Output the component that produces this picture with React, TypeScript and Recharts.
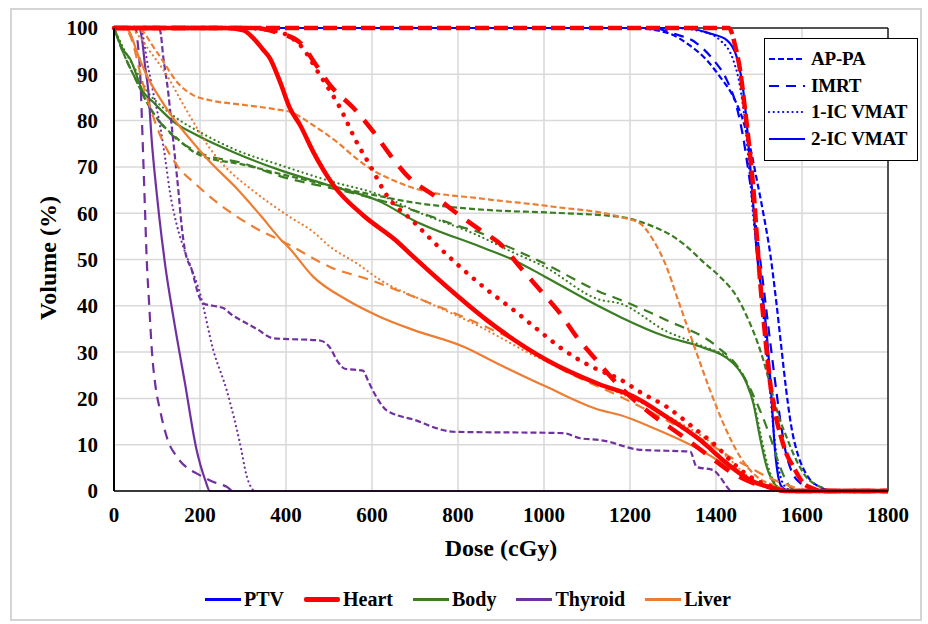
import React from 'react';
import { LineChart, Line, XAxis, YAxis, CartesianGrid, ReferenceLine } from 'recharts';

type P = [number, number][];

// ---------- axis ticks ----------
const doseTicks = [0, 200, 400, 600, 800, 1000, 1200, 1400, 1600, 1800];
const volumeTicks = [0, 10, 20, 30, 40, 50, 60, 70, 80, 90, 100];

const structures = ['PTV', 'Heart', 'Body', 'Thyroid', 'Liver'];
const techniques = ['AP-PA', 'IMRT', '1-IC VMAT', '2-IC VMAT'];

// ---------- PTV ----------
const ptvApPa: P = [[0,100],[1200,100],[1254,99.6],[1300,98.5],[1332,96.7],[1378,93.1],[1409,89.5],[1440,85.2],[1463,80],[1479,74.4],[1495,67.2],[1510,60],[1526,51.3],[1540,41],[1552,31],[1563,22],[1575,14],[1590,8],[1605,4.5],[1620,2.3],[1635,1.2],[1650,0.5],[1665,0],[1800,0]];
const ptvImrt: P = [[0,100],[1250,100],[1301,98.8],[1355,96.7],[1394,93.1],[1425,88.8],[1448,83],[1463,76.5],[1475,69.3],[1487,61.4],[1500,52],[1512,43],[1525,33],[1537,24],[1550,15],[1562,8.5],[1577,4],[1595,1.8],[1615,0.8],[1640,0],[1800,0]];
const ptvVmat1: P = [[0,100],[1300,100],[1370,99.2],[1409,97.4],[1440,93.1],[1456,87.3],[1467,80],[1476,71],[1486,60],[1497,50],[1508,40],[1520,28],[1531,16],[1541,7.5],[1552,2.5],[1565,0.6],[1580,0],[1800,0]];
const ptvVmat2: P = [[0,100],[1330,100],[1386,98.8],[1425,97.4],[1448,93.8],[1460,88.8],[1471,80],[1479,70.8],[1487,61.4],[1495,51.3],[1505,44],[1514,37.6],[1527,23.3],[1537,9],[1545,3],[1553,0.9],[1570,0],[1800,0]];

// ---------- Heart ----------
const heartApPa: P = [[0,100],[1430,100],[1445,96],[1456,90.9],[1468,82],[1479,72.9],[1488,64],[1495,55],[1502,46],[1510,37.6],[1518,30],[1526,23.3],[1537,17],[1549,12.4],[1564,8],[1580,5.2],[1603,1.7],[1626,0.5],[1645,0],[1800,0]];
const heartImrt: P = [[0,100],[330,100],[380,99],[433,96.8],[470,92],[502,87.7],[557,82.7],[603,77.6],[642,72.6],[688,67.5],[743,63.9],[797,60],[851,56.4],[905,52.8],[944,48.4],[991,43.4],[1037,38.4],[1076,33.3],[1115,29],[1177,22.5],[1247,16.8],[1324,11.7],[1386,7.4],[1440,3.8],[1487,1.7],[1533,0.6],[1560,0],[1800,0]];
const heartVmat1: P = [[0,100],[300,100],[360,99.6],[402,98.5],[433,96.3],[479,89.8],[526,82.7],[564,75.4],[595,70.4],[634,63.9],[696,58.2],[743,53.8],[805,48.4],[867,43.5],[929,39.1],[990,34.5],[1045,30.5],[1130,26],[1169,24.5],[1230,21],[1285,18.2],[1350,13.5],[1402,9.6],[1440,6],[1479,3.1],[1533,0.8],[1560,0],[1800,0]];
const heartVmat2: P = [[0,100],[260,100],[301,99.5],[324,97.8],[345,95.5],[363,93.4],[386,88.4],[409,82.7],[433,79],[463,73.3],[510,66.1],[580,59.5],[657,54],[696,50.6],[774,44.1],[867,36.9],[1006,28.3],[1130,23],[1208,20.4],[1285,16],[1363,11],[1425,6],[1479,2.4],[1533,0.6],[1560,0],[1800,0]];

// ---------- Body ----------
const bodyApPa: P = [[0,100],[20,95],[50,89],[84,82.7],[100,80.5],[146,76.2],[200,72.5],[300,70.5],[386,68.5],[500,66],[600,64],[712,62.1],[800,61.2],[867,60.7],[1022,60.1],[1177,59.2],[1254,57.1],[1300,55],[1332,52.8],[1370,49.5],[1409,46.3],[1448,42],[1479,36.2],[1495,32.5],[1510,28.3],[1533,20.4],[1548,15.5],[1564,11.7],[1580,8],[1595,5.2],[1610,3],[1626,1.7],[1650,0.6],[1670,0],[1800,0]];
const bodyImrt: P = [[0,100],[20,95],[50,89],[84,82.7],[100,80.5],[146,76],[200,73],[300,70.8],[386,68],[500,65.5],[600,63.3],[700,60.5],[805,57.1],[851,55.8],[900,53.5],[1000,49.2],[1130,43],[1177,41.3],[1285,36.9],[1402,31.2],[1456,26.1],[1495,19],[1526,11.7],[1549,5.2],[1572,0.9],[1590,0],[1800,0]];
const bodyVmat1: P = [[0,100],[20,96],[50,91],[84,85.5],[100,84],[146,80.5],[200,77.5],[285,73.6],[386,70.4],[500,67],[619,63.9],[700,60.5],[851,55],[929,51.5],[1000,48.5],[1130,41.3],[1177,40.5],[1285,34.5],[1363,31.5],[1440,27.8],[1471,23.5],[1490,18.5],[1505,11.7],[1522,5],[1543,0.9],[1560,0],[1800,0]];
const bodyVmat2: P = [[0,100],[20,95.5],[37,93.4],[68,86.2],[91,84],[138,79.8],[192,76.9],[285,72.9],[386,69.3],[500,66],[619,62.5],[696,58.5],[851,52.8],[929,49.9],[1000,46.4],[1130,39.8],[1177,37.6],[1285,33.3],[1363,31.2],[1440,27.6],[1471,23.3],[1487,18.9],[1502,11.7],[1518,5.2],[1541,0.9],[1553,0],[1800,0]];

// ---------- Thyroid ----------
const thyApPa: P = [[0,100],[100,100],[107,99.5],[115,93.4],[126,86.2],[134,79],[142,71.9],[150,64.6],[157,57.5],[165,52],[181,47.7],[198,42],[208,40.5],[230,40],[254,39.5],[275,38],[293,37],[332,35],[370,33],[479,32.5],[502,31],[520,28],[537,26.4],[579,26],[590,24],[602,21.7],[634,17.4],[649,16.7],[704,15.2],[742,13.8],[789,12.8],[1045,12.5],[1084,11.4],[1130,11],[1161,10.4],[1177,9.9],[1223,8.9],[1340,8.5],[1355,5.2],[1394,4.5],[1409,3.1],[1428,0.6],[1435,0],[1800,0]];
const thyImrt: P = [[0,100],[50,100],[56,96],[61,90],[64,82.7],[68,71.9],[72,61],[76,50.3],[82,40],[88,30.4],[96,23],[107,17.5],[125,11],[146,7.4],[170,5],[192,3.8],[230,2],[262,0.9],[277,0],[1800,0]];
const thyVmat1: P = [[0,100],[62,100],[68,98],[76,93.4],[91,86.2],[107,79],[119,71.9],[130,64.6],[146,57.5],[165,51.7],[177,48.8],[200,42.7],[231,30.4],[262,21.8],[293,10.3],[309,3.1],[320,0.6],[328,0],[1800,0]];
const thyVmat2: P = [[0,100],[58,100],[66,97],[72,92],[80,86.2],[88,75.4],[99,64.6],[111,54.6],[119,48.8],[138,37.6],[165,23.3],[192,8.9],[212,2.4],[223,0],[1800,0]];

// ---------- Liver ----------
const livApPa: P = [[0,100],[55,100],[70,99],[84,97],[115,92.7],[146,88.4],[184,85.5],[223,84.4],[301,83.4],[386,82.3],[409,81.9],[463,79],[518,75.4],[564,71.8],[595,69.7],[657,66.8],[712,65],[851,63.2],[1022,61.4],[1177,59.2],[1223,57.8],[1254,54.2],[1285,48.4],[1309,42],[1347,31.9],[1386,21.8],[1417,14.6],[1456,7.4],[1495,3.1],[1533,1.3],[1564,0.3],[1600,0],[1800,0]];
const livImrt: P = [[0,100],[25,100],[37,98.5],[68,87.7],[107,76.9],[146,70.4],[192,66.1],[247,61.8],[316,57.5],[409,53.1],[502,48.4],[595,45.6],[696,42],[812,37.6],[929,32.6],[1045,26.1],[1177,20.4],[1280,15.5],[1370,11],[1430,7.5],[1480,5],[1520,3],[1560,1.5],[1600,0.3],[1630,0],[1800,0]];
const livVmat1: P = [[0,100],[35,100],[60,98],[84,94.9],[123,89.8],[153,84.8],[184,79.8],[223,74],[262,69.7],[316,65.4],[409,59.2],[463,56],[502,52.8],[564,49.2],[619,45.6],[735,40.5],[851,35.5],[967,29.7],[1084,24.7],[1177,21.1],[1250,18],[1320,14.5],[1380,11],[1430,7],[1470,3.5],[1500,1.5],[1540,0.3],[1570,0],[1800,0]];
const livVmat2: P = [[0,100],[25,100],[37,99],[53,94.9],[76,89.8],[107,84.8],[138,80.5],[169,76.9],[223,71.1],[285,65.4],[340,59.6],[386,54.5],[409,52.3],[463,46.3],[541,41.3],[619,37.6],[696,34.8],[812,31.2],[890,27.6],[1006,22.5],[1130,17.5],[1177,16.4],[1247,13.9],[1363,8.9],[1440,4.5],[1487,1.7],[1526,0.6],[1545,0],[1800,0]];

// ---------- styling ----------
const FONT = "'Liberation Serif', 'Times New Roman', serif";
const COLORS: Record<string, string> = {
  PTV: '#0000FF',
  Heart: '#FF0000',
  Body: '#3A7D22',
  Thyroid: '#7030A0',
  Liver: '#ED7D31',
};

function strokeFor(structure: string, tech: string) {
  const thick = structure === 'Heart';
  const width = thick ? 4.5 : 2.2;
  let dash: string | undefined;
  let cap: 'round' | 'butt' = 'butt';
  if (tech === 'AP-PA') dash = thick ? '14 5' : '6 3';
  else if (tech === 'IMRT') dash = thick ? '17 12' : '10 7';
  else if (tech === '1-IC VMAT') { dash = thick ? '0.1 10' : '0.1 4.6'; cap = 'round'; }
  return { width, dash, cap };
}

const toPts = (p: P) => p.map(([d, v]) => ({ d, v }));

const seriesTable: { structure: string; tech: string; data: P }[] = [
  { structure: 'PTV', tech: 'AP-PA', data: ptvApPa },
  { structure: 'PTV', tech: 'IMRT', data: ptvImrt },
  { structure: 'PTV', tech: '1-IC VMAT', data: ptvVmat1 },
  { structure: 'PTV', tech: '2-IC VMAT', data: ptvVmat2 },
  { structure: 'Body', tech: 'AP-PA', data: bodyApPa },
  { structure: 'Body', tech: 'IMRT', data: bodyImrt },
  { structure: 'Body', tech: '1-IC VMAT', data: bodyVmat1 },
  { structure: 'Body', tech: '2-IC VMAT', data: bodyVmat2 },
  { structure: 'Thyroid', tech: 'AP-PA', data: thyApPa },
  { structure: 'Thyroid', tech: 'IMRT', data: thyImrt },
  { structure: 'Thyroid', tech: '1-IC VMAT', data: thyVmat1 },
  { structure: 'Thyroid', tech: '2-IC VMAT', data: thyVmat2 },
  { structure: 'Liver', tech: 'AP-PA', data: livApPa },
  { structure: 'Liver', tech: 'IMRT', data: livImrt },
  { structure: 'Liver', tech: '1-IC VMAT', data: livVmat1 },
  { structure: 'Liver', tech: '2-IC VMAT', data: livVmat2 },
  { structure: 'Heart', tech: 'AP-PA', data: heartApPa },
  { structure: 'Heart', tech: 'IMRT', data: heartImrt },
  { structure: 'Heart', tech: '1-IC VMAT', data: heartVmat1 },
  { structure: 'Heart', tech: '2-IC VMAT', data: heartVmat2 },
];

const tickStyle = { fill: '#000', fontSize: 21, fontWeight: 700, fontFamily: FONT };

function TechLegend() {
  return (
    <div style={{
      position: 'absolute', left: 764, top: 38, width: 154, height: 123, boxSizing: 'border-box',
      border: '1.5px solid #000', background: '#fff', fontFamily: FONT, fontWeight: 700, fontSize: 19,
    }}>
      {techniques.map((t, i) => {
        const s = strokeFor('PTV', t);
        return (
          <div key={t} style={{ position: 'absolute', left: 3, top: 8 + i * 26.5, height: 24, display: 'flex', alignItems: 'center', whiteSpace: 'nowrap' }}>
            <svg width={38} height={10} style={{ display: 'block' }}>
              <line x1={1} y1={5} x2={37} y2={5} stroke={COLORS.PTV} strokeWidth={s.width}
                strokeDasharray={s.dash} strokeLinecap={s.cap} />
            </svg>
            <span style={{ marginLeft: 5, letterSpacing: -0.2 }}>{t}</span>
          </div>
        );
      })}
    </div>
  );
}

function StructureLegend() {
  return (
    <div style={{
      position: 'absolute', left: 205, top: 586, height: 26, display: 'flex', alignItems: 'center',
      fontFamily: FONT, fontWeight: 700, fontSize: 20, whiteSpace: 'nowrap',
    }}>
      {structures.map((s, i) => (
        <div key={s} style={{ display: 'flex', alignItems: 'center', marginLeft: i === 0 ? 0 : 20 }}>
          <div style={{ width: 36, height: s === 'Heart' ? 5 : 3, background: COLORS[s], borderRadius: s === 'Heart' ? 2 : 0 }} />
          <span style={{ marginLeft: 3 }}>{s}</span>
        </div>
      ))}
    </div>
  );
}

export default function App() {
  return (
    <div style={{ position: 'absolute', left: 0, top: 0, width: 928, height: 624, background: '#fff', overflow: 'hidden' }}>
      <div style={{ position: 'absolute', left: 10, top: 8, width: 912, height: 613, boxSizing: 'border-box', border: '2px solid #d4d4d4' }} />
      <div style={{ position: 'absolute', left: 0, top: 0 }}>
        <LineChart width={928} height={624} margin={{ top: 28, right: 40, bottom: 93, left: 54 }}>
          <CartesianGrid stroke="#d9d9d9" strokeWidth={1.5} />
          <XAxis
            type="number"
            dataKey="d"
            domain={[0, 1800]}
            ticks={doseTicks}
            height={40}
            interval={0}
            tickSize={0}
            tickMargin={16}
            axisLine={{ stroke: '#000', strokeWidth: 1.5 }}
            tickLine={false}
            tick={tickStyle}
          />
          <YAxis
            type="number"
            dataKey="v"
            domain={[0, 100]}
            ticks={volumeTicks}
            width={60}
            interval={0}
            tickSize={0}
            tickMargin={16}
            axisLine={{ stroke: '#000', strokeWidth: 2 }}
            tickLine={false}
            tick={tickStyle}
          />
          <ReferenceLine y={100} stroke="#222" strokeWidth={1.5} />
          <ReferenceLine x={1800} stroke="#222" strokeWidth={1.5} />
          {seriesTable.map((s) => {
            const st = strokeFor(s.structure, s.tech);
            return (
              <Line
                key={s.structure + s.tech}
                data={toPts(s.data)}
                dataKey="v"
                type="monotone"
                stroke={COLORS[s.structure]}
                strokeWidth={st.width}
                strokeDasharray={st.dash}
                strokeLinecap={st.cap}
                dot={false}
                activeDot={false}
                isAnimationActive={false}
                name={`${s.structure} ${s.tech}`}
              />
            );
          })}
        </LineChart>
      </div>
      <div style={{
        position: 'absolute', left: 48, top: 258, transform: 'translate(-50%, -50%) rotate(-90deg)',
        fontFamily: FONT, fontWeight: 700, fontSize: 24, whiteSpace: 'nowrap',
      }}>Volume (%)</div>
      <div style={{
        position: 'absolute', left: 501, top: 548, transform: 'translate(-50%, -50%)',
        fontFamily: FONT, fontWeight: 700, fontSize: 24, whiteSpace: 'nowrap',
      }}>Dose (cGy)</div>
      <TechLegend />
      <StructureLegend />
    </div>
  );
}
